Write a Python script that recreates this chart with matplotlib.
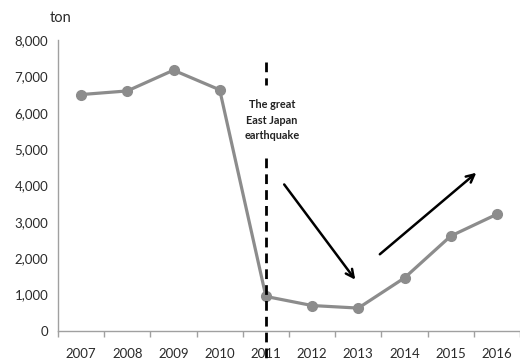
import matplotlib
matplotlib.use("Agg")
import matplotlib.pyplot as plt

years = ["2007", "2008", "2009", "2010", "2011", "2012", "2013", "2014", "2015", "2016"]
tons = [6500, 6600, 7170, 6630, 950, 700, 630, 1460, 2610, 3210]
yticks = [0, 1000, 2000, 3000, 4000, 5000, 6000, 7000, 8000]
ytick_labels = ["0", "1,000", "2,000", "3,000", "4,000", "5,000", "6,000", "7,000", "8,000"]
event_label = "The great\nEast Japan\nearthquake"
event_year = "2011"

plt.rcParams["font.family"] = ["Lato", "DejaVu Sans"]

fig = plt.figure(figsize=(5.2, 3.6), dpi=100)
ax = fig.add_axes([58 / 520, 1 - 331 / 360, 462 / 520, 291 / 360])

x = list(range(len(years)))
ax.plot(x, tons, color="#8c8c8c", lw=2.3, marker="o", markersize=7,
        markerfacecolor="#8c8c8c", markeredgecolor="#8c8c8c", zorder=3)

ax.set_xlim(-0.5, 9.41)
ax.set_ylim(0, 8000)
ax.set_yticks(yticks)
ax.set_yticklabels(ytick_labels)
ax.set_xticks(x)
ax.set_xticklabels(years)
ax.set_xticks([i - 0.5 for i in range(len(years))] + [9.5], minor=True)

ax.tick_params(axis="y", length=0, pad=7, labelsize=9.5, labelcolor="#2a2a2a")
ax.tick_params(axis="x", which="major", length=0, pad=12, labelsize=9.5, labelcolor="#2a2a2a")
ax.tick_params(axis="x", which="minor", length=4, color="#a0a0a0", width=1)

for s in ["top", "right"]:
    ax.spines[s].set_visible(False)
for s in ["left", "bottom"]:
    ax.spines[s].set_color("#a0a0a0")
    ax.spines[s].set_linewidth(1)

# Unit label above the y axis
fig.text(50 / 520, 1 - 18 / 360, "ton", fontsize=10.5, color="#2a2a2a", va="center", ha="left")

# Earthquake marker: dashed vertical line interrupted by the label
ex = years.index(event_year)
ax.plot([ex, ex], [7400, 6750], color="black", lw=2, ls=(0, (3.5, 2.2)), clip_on=False, zorder=4)
ax.plot([ex, ex], [4750, -800], color="black", lw=2, ls=(0, (3.5, 2.2)), clip_on=False, zorder=4)
ax.text(ex + 0.13, 5800, event_label, ha="center", va="center", fontsize=7.8,
        fontweight="bold", color="#222222", linespacing=1.45, family=["Lato", "DejaVu Sans"])

# Trend arrows
ax.annotate("", xy=(5.97, 1350), xytext=(4.36, 4090),
            arrowprops=dict(arrowstyle="->", color="black", lw=1.8, mutation_scale=14))
ax.annotate("", xy=(8.6, 4400), xytext=(6.42, 2060),
            arrowprops=dict(arrowstyle="->", color="black", lw=1.8, mutation_scale=14))

fig.savefig("out.png", dpi=100, facecolor="white")
